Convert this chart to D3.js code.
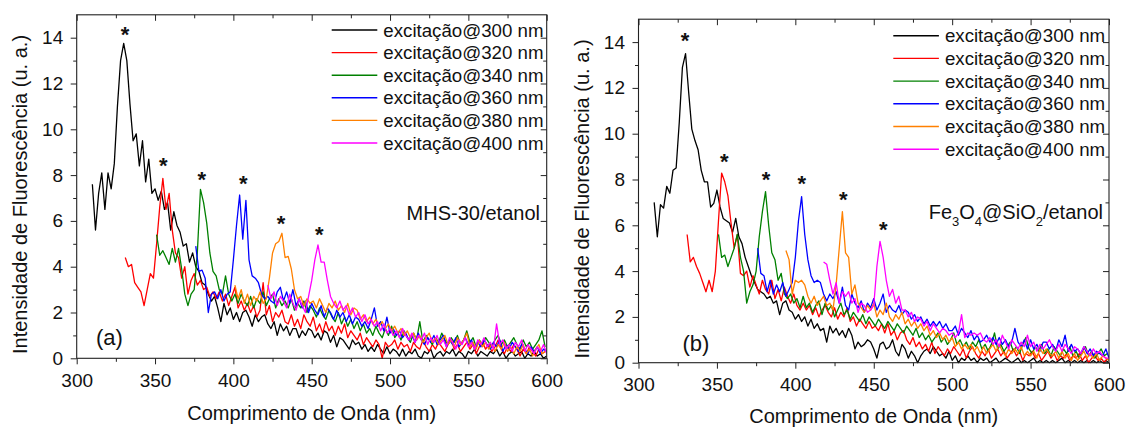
<!DOCTYPE html>
<html><head><meta charset="utf-8">
<script src="https://cdn.jsdelivr.net/npm/d3@7/dist/d3.min.js"></script>
<style>
html,body{margin:0;padding:0;background:#fff;}
svg{display:block;font-family:"Liberation Sans",Arial,sans-serif;}
</style></head>
<body>
<svg id="chart" width="1130" height="427"></svg>
<script>
// ---------- DATA ----------
const STEP = 2; // nm sampling step of every series
const xMajorTicks = [300, 350, 400, 450, 500, 550, 600];
const xMinorTicks = [325, 375, 425, 475, 525, 575];
const yMajorTicks = [0, 2, 4, 6, 8, 10, 12, 14];
const yMinorTicks = [1, 3, 5, 7, 9, 11, 13];
const legendLabels = ["excitação@300 nm", "excitação@320 nm", "excitação@340 nm",
                      "excitação@360 nm", "excitação@380 nm", "excitação@400 nm"];

// panel (a) : MHS-30/etanol
const startsA = [310, 331, 351, 376, 401, 422];
const a300 = [7.6,5.6,7.2,8.1,6.5,8.1,7.4,8.5,11.0,13.0,13.75,13.0,11.1,9.5,9.8,8.4,9.5,7.7,8.7,7.2,7.4,6.9,7.3,6.5,6.8,5.6,6.4,5.8,5.5,4.9,5.0,4.2,4.6,4.0,3.8,3.3,3.2,2.8,2.5,2.7,2.2,1.6,2.4,1.9,2.2,1.7,2.0,1.6,2.0,2.1,1.8,1.4,1.9,1.6,1.8,1.9,1.5,1.3,1.6,1.0,1.5,1.2,1.4,1.0,1.3,1.3,0.9,1.2,1.0,1.3,1.2,0.9,1.1,0.8,1.2,1.1,0.7,1.0,0.5,0.9,0.8,0.6,0.4,0.8,0.6,0.7,0.4,0.6,0.3,0.5,0.3,0.6,0.4,0.2,0.5,0.2,0.4,0.3,0.1,0.4,0.1,0.3,0.2,0.4,0.1,0.0,0.3,0.2,0.4,0.0,0.2,0.3,0.1,0.3,0.2,0.4,0.1,0.3,0.2,0.0,0.3,0.2,0.4,0.1,0.3,0.2,0.1,0.3,0.2,0.4,0.1,0.3,0.0,0.2,0.3,0.1,0.2,0.3,0.0,0.2,0.1,0.3,0.1,0.2,0.0,0.1];
const a320 = [4.4,4.0,4.1,3.3,3.1,2.9,2.3,3.0,3.7,3.5,5.0,6.6,7.86,6.5,7.2,5.6,4.6,4.4,3.5,4.0,2.8,3.4,3.7,3.2,3.4,3.0,3.1,2.7,2.9,2.6,2.9,2.5,2.8,2.3,2.7,3.1,2.2,2.5,2.1,2.4,2.0,2.3,1.8,2.1,3.3,1.9,2.3,1.6,2.0,1.8,2.1,1.6,1.5,1.9,1.4,1.7,1.3,1.9,1.6,1.4,1.8,1.2,1.5,1.1,1.6,1.2,1.4,1.0,1.4,1.1,1.5,0.9,1.2,1.0,0.8,1.1,0.6,0.9,0.7,0.5,0.8,0.6,0.0,0.7,0.5,0.6,0.8,0.4,0.7,0.5,0.6,0.3,0.7,0.5,0.4,0.8,0.5,0.3,0.6,0.4,0.7,0.5,0.3,0.6,0.8,0.4,0.6,0.3,0.5,0.7,0.4,0.6,0.2,0.5,0.7,0.4,0.6,0.3,0.5,0.8,0.4,0.2,0.5,0.3,0.6,0.4,0.1,0.4,0.2,0.5,0.3,0.1,0.4,0.2,0.3];
const a340 = [5.4,4.5,4.7,4.4,4.1,4.8,4.2,4.8,3.9,2.8,2.3,2.8,3.0,4.6,7.38,6.8,5.9,4.6,3.8,3.6,3.0,2.8,3.6,2.8,2.5,2.8,2.4,2.8,2.5,2.3,2.7,2.2,2.6,2.4,2.9,2.3,2.6,2.8,2.2,2.6,2.3,2.5,2.2,2.6,2.1,2.4,2.2,2.5,2.0,2.3,2.1,1.8,2.2,1.9,1.7,2.1,1.8,1.6,2.0,1.5,1.8,1.4,1.7,1.3,1.6,1.2,1.5,1.1,1.3,1.0,1.4,1.1,0.9,1.3,1.0,1.4,0.9,1.1,0.8,1.2,0.9,0.7,1.1,0.8,1.6,0.7,1.0,0.8,0.6,0.9,0.7,1.1,0.8,0.6,0.9,0.7,1.0,0.6,0.8,1.2,0.7,0.9,0.5,0.8,0.6,0.9,0.7,0.5,0.8,1.0,0.6,0.8,0.5,0.7,0.9,0.6,0.4,0.8,0.5,0.7,0.4,0.6,0.8,1.2,0.5];
const a360 = [4.9,3.8,3.85,3.5,2.0,2.8,2.9,2.6,3.0,2.5,2.8,2.9,4.3,5.8,7.13,5.2,6.9,4.3,3.6,3.5,3.3,2.8,2.6,2.7,2.5,2.4,2.9,3.1,2.5,2.9,2.4,3.0,2.3,2.6,2.2,2.5,2.0,2.4,2.1,1.9,2.3,1.8,2.2,2.0,1.7,2.1,1.8,2.0,1.6,1.9,1.5,1.8,1.7,1.4,1.6,1.3,1.7,2.2,1.4,1.6,1.2,1.8,1.1,1.3,1.0,1.2,0.9,1.1,0.8,1.0,0.7,1.1,0.8,0.6,0.9,0.7,1.0,0.6,0.8,1.0,0.5,0.8,0.6,0.9,0.5,0.7,0.9,0.6,0.8,0.4,0.7,0.5,0.8,0.6,0.4,0.7,0.5,0.8,0.3,0.6,0.4,0.7,0.5,0.3,0.6,0.4,0.2,0.5,0.3,0.5,0.2,0.4,0.3];
const a380 = [3.2,2.6,3.0,2.4,2.8,2.3,2.7,2.5,2.9,2.4,2.6,3.5,4.6,5.0,5.1,5.46,4.4,4.45,3.9,3.0,2.6,2.7,2.3,2.6,2.4,2.5,2.2,2.6,2.3,2.0,2.4,2.2,2.5,2.1,2.3,2.0,2.4,1.9,2.2,2.1,1.7,1.9,1.6,1.8,1.5,1.7,1.4,1.6,1.3,1.5,1.2,1.4,1.1,1.3,1.0,1.2,0.9,1.1,0.8,1.0,0.7,0.9,1.1,0.7,0.9,0.6,0.8,1.0,0.6,0.8,0.5,0.9,0.6,0.8,1.1,0.5,0.7,0.4,0.8,0.5,0.7,0.4,0.6,0.3,0.6,0.4,0.7,0.3,0.5,0.2,0.5,0.3,0.6,0.2,0.4,0.1,0.4,0.6,0.2,0.3];
const a400 = [3.2,2.6,2.9,2.3,2.7,2.5,2.2,2.8,2.4,2.1,2.6,2.3,2.0,2.7,3.4,4.3,4.95,4.2,4.2,3.4,2.7,2.4,2.2,2.5,2.1,2.3,1.9,2.2,1.8,2.0,1.6,1.9,1.5,1.7,1.4,1.6,1.2,1.5,1.1,1.3,1.0,1.2,0.9,1.3,1.0,0.8,1.1,0.7,1.0,0.8,1.1,0.6,0.9,0.7,1.0,0.6,0.8,0.5,0.9,0.7,0.4,0.8,0.6,0.9,0.5,0.7,0.4,0.8,0.6,0.9,0.5,0.7,0.4,1.5,0.6,0.8,0.4,0.6,0.3,0.7,0.5,0.8,0.3,0.6,0.4,0.2,0.5,0.3,0.6,0.2];
const starsAx = [330.8, 355.3, 379.8, 406.3, 430.4, 454.9];
const starsAy = [14.4, 8.66, 8.05, 7.86, 6.11, 5.63];

// panel (b) : Fe3O4@SiO2/etanol
const startsB = [310, 331, 351, 376, 394, 418];
const b300 = [7.0,5.5,6.9,6.75,7.7,7.4,8.4,8.5,10.5,12.9,13.5,11.8,10.2,9.7,9.3,8.4,7.9,7.9,6.8,6.96,7.54,6.8,6.3,6.2,6.1,5.7,6.3,5.5,5.2,4.6,4.2,3.8,3.5,3.2,3.1,3.0,2.8,2.9,2.6,2.7,2.1,2.6,2.7,2.3,2.2,1.9,2.1,1.8,2.0,1.6,1.9,1.5,1.7,1.4,1.5,0.9,1.6,1.3,1.5,1.2,1.4,1.1,1.5,1.2,0.6,0.9,0.7,0.8,1.0,0.9,0.6,0.2,0.8,0.9,0.6,0.7,1.0,0.5,0.3,0.8,0.6,0.2,0.5,0.3,0.0,0.3,0.5,0.6,0.4,0.7,0.5,0.3,0.4,0.2,0.5,0.1,0.3,0.0,0.2,0.1,0.3,0.1,0.2,0.0,0.2,0.1,0.2,0.0,0.1,0.2,0.0,0.1,0.2,0.1,0.0,0.1,0.2,0.0,0.1,0.0,0.1,0.2,0.0,0.1,0.0,0.1,0.0,0.1,0.0,0.1,0.2,0.0,0.1,0.0,0.1,0.0,0.1,0.0,0.1,0.0,0.1,0.0,0.1,0.0,0.1,0.0];
const b320 = [5.6,4.4,4.6,4.2,3.9,3.5,3.1,3.6,3.1,4.0,6.2,8.28,7.9,7.3,6.1,5.0,5.6,3.9,3.8,4.0,3.3,3.8,3.4,3.0,3.6,3.2,3.0,3.6,2.8,3.2,2.7,3.3,2.9,2.6,3.0,2.5,2.3,2.6,2.3,2.5,2.1,2.4,2.0,2.3,2.5,2.2,2.0,2.4,1.9,2.2,2.0,2.4,1.8,2.0,1.6,1.9,1.7,1.5,1.8,1.5,1.6,1.4,1.7,1.3,1.7,1.2,1.4,1.0,1.3,1.4,1.0,0.8,1.1,0.7,0.9,0.6,0.8,0.5,0.9,0.4,0.7,0.5,0.3,0.6,0.4,0.7,0.5,0.3,0.6,0.2,0.5,0.7,0.4,0.2,0.5,0.3,0.6,0.2,0.4,0.6,0.3,0.5,0.2,0.4,0.6,0.3,0.5,0.1,0.4,0.3,0.5,0.2,0.4,0.1,0.3,0.5,0.2,0.4,0.1,0.3,0.2,0.4,0.1,0.3,0.2,0.4,0.1,0.3,0.0,0.2,0.3,0.1,0.2,0.0,0.2];
const b340 = [5.6,4.6,4.7,4.2,4.6,5.0,5.6,4.6,4.0,2.6,3.1,3.4,4.0,5.5,6.6,7.47,6.0,4.8,4.5,3.6,3.9,3.0,2.8,3.0,2.6,2.8,2.4,2.9,2.4,2.6,2.2,2.5,2.7,2.1,2.6,2.3,2.5,2.0,2.3,2.6,2.1,2.3,1.9,2.2,2.0,1.8,2.1,1.7,2.0,1.8,1.6,1.9,1.7,1.5,1.8,1.6,1.4,1.7,1.5,1.3,1.6,1.4,1.2,1.5,1.1,1.3,1.0,1.2,0.9,1.1,1.3,0.9,1.1,0.8,1.0,1.3,0.8,1.0,0.7,0.9,0.6,0.9,0.7,1.0,0.6,0.8,0.5,0.8,1.3,0.6,0.8,0.5,0.7,0.9,0.5,0.7,0.4,0.8,1.1,0.6,0.4,0.7,0.5,0.8,0.4,0.6,0.3,0.7,0.5,0.3,0.6,0.4,0.7,0.3,0.5,0.2,0.5,0.7,0.3,0.5,0.2,0.4,0.6,0.3,0.4];
const b360 = [5.0,3.9,3.8,3.1,3.6,3.0,3.4,3.1,3.5,2.9,3.2,3.5,4.6,6.2,7.25,5.6,4.5,3.8,3.5,3.6,3.5,3.0,2.7,3.0,2.8,3.1,2.6,3.3,2.5,2.3,3.0,2.6,2.4,2.7,2.2,2.6,2.4,2.8,2.3,2.6,3.0,2.2,2.5,2.3,2.2,2.5,2.1,2.3,2.2,1.9,2.1,1.8,2.0,1.7,1.9,1.6,1.8,1.6,1.8,1.5,1.7,1.4,1.4,1.6,1.2,1.5,1.3,1.1,1.4,1.0,1.2,0.9,1.0,1.2,0.9,1.1,0.8,1.1,0.8,1.0,0.7,0.9,1.5,0.9,0.7,1.0,0.6,1.0,0.6,0.8,0.5,0.9,0.9,0.6,0.8,0.5,1.0,0.7,1.2,0.5,0.8,0.5,0.6,0.4,0.7,0.4,0.6,0.3,0.5,0.4,0.3,0.6,0.2];
const b380 = [4.9,4.5,3.0,3.6,3.5,3.6,3.4,2.9,2.6,2.9,2.5,2.7,2.9,2.5,2.6,2.3,3.4,5.0,6.6,4.8,4.6,3.0,3.4,2.6,2.4,2.2,2.5,2.3,2.6,2.0,2.3,2.1,2.6,2.0,1.8,2.1,1.9,2.2,1.7,1.9,1.6,1.8,1.5,1.7,1.4,1.6,1.2,1.4,1.1,1.3,1.0,1.2,0.9,1.1,0.7,0.9,0.6,0.8,0.6,0.8,0.5,0.7,0.4,0.7,0.4,0.6,0.8,0.5,0.8,0.5,0.3,0.6,0.4,0.6,0.4,0.7,0.3,0.5,0.3,0.5,0.2,0.6,0.4,0.6,0.4,0.3,0.5,0.2,0.5,0.2,0.4,0.1,0.4,0.1,0.3,0.5,0.2,0.4,0.2,0.4,0.1,0.3,0.2,0.1];
const b400 = [4.4,4.3,3.6,3.0,3.5,2.6,3.1,2.9,3.1,2.6,2.8,2.2,2.6,2.5,2.2,2.3,2.5,4.2,5.3,4.6,3.6,2.9,3.2,2.6,2.9,2.3,2.3,2.0,2.2,1.8,2.0,1.9,1.6,1.8,1.4,1.7,1.5,1.3,1.5,1.4,1.2,1.3,1.1,1.3,2.1,1.1,1.3,1.2,1.3,1.2,1.3,1.0,0.9,1.1,0.8,1.0,0.7,1.2,0.9,0.6,1.0,0.8,0.6,0.9,0.7,1.2,0.7,0.9,0.5,0.8,0.6,0.8,1.0,0.7,0.5,0.8,0.5,0.8,0.6,0.4,0.7,0.6,0.4,0.7,0.5,0.3,0.6,0.4,0.5,0.3,0.2,0.2];
const starsBx = [329.6, 354.7, 381.3, 404.1, 430.6, 456.1];
const starsBy = [14.31, 9.03, 8.24, 8.05, 7.37, 6.06];

// ---------- STYLE / LAYOUT ----------
const colors = ["#000000", "#ff0000", "#008000", "#0000ff", "#ff8000", "#ff00ff"];
const FONT = '"Liberation Sans", Arial, sans-serif';

const panels = [
  { box: {l: 76.7, r: 546.7, t: 14.8, b: 358.3},
    starts: startsA, series: [a300, a320, a340, a360, a380, a400],
    starsX: starsAx, starsY: starsAy,
    legend: {x: 331.7, y: 30, dy: 22.6},
    tag: {text: "(a)", x: 96, y: 345},
    ylabCenter: 194.5, xlabY: 419.5, kind: "a" },
  { box: {l: 638.5, r: 1109, t: 19.2, b: 362.7},
    starts: startsB, series: [b300, b320, b340, b360, b380, b400],
    starsX: starsBx, starsY: starsBy,
    legend: {x: 893.3, y: 35.7, dy: 22.7},
    tag: {text: "(b)", x: 682.5, y: 351},
    ylabCenter: 199, xlabY: 423, kind: "b" }
];

const svg = d3.select("#chart");

panels.forEach((p, pi) => {
  const B = p.box;
  const x = d3.scaleLinear().domain([300, 600]).range([B.l, B.r]);
  const y = d3.scaleLinear().domain([0, 15]).range([B.b, B.t]);
  const g = svg.append("g");

  // clip
  const clipId = "clip" + pi;
  svg.append("clipPath").attr("id", clipId).append("rect")
    .attr("x", B.l).attr("y", B.t).attr("width", B.r - B.l).attr("height", B.b - B.t + 1);

  // series
  const line = d3.line().x(d => x(d[0])).y(d => y(d[1]));
  const lg = g.append("g").attr("clip-path", `url(#${clipId})`);
  p.series.forEach((vals, si) => {
    const pts = vals.map((v, i) => [p.starts[si] + i * STEP, v]).filter(d => d[0] <= 600);
    lg.append("path").datum(pts).attr("d", line)
      .attr("fill", "none").attr("stroke", colors[si]).attr("stroke-width", 1.3)
      .attr("stroke-linejoin", "round");
  });

  // axes
  const styleAxis = (sel) => {
    sel.select(".domain").remove();
    sel.selectAll("line").attr("stroke", "#222").attr("stroke-width", 1);
    sel.selectAll("text").attr("font-family", FONT).attr("font-size", 19).attr("fill", "#111");
  };
  g.append("g").attr("transform", `translate(0,${B.b})`)
    .call(d3.axisBottom(x).tickValues(xMajorTicks).tickSize(6).tickPadding(9).tickFormat(d3.format("d")))
    .call(styleAxis);
  g.append("g").attr("transform", `translate(0,${B.b})`)
    .call(d3.axisBottom(x).tickValues(xMinorTicks).tickSize(3.5).tickFormat(""))
    .call(styleAxis);
  g.append("g").attr("transform", `translate(0,${B.t})`)
    .call(d3.axisTop(x).tickValues(xMajorTicks).tickSize(-6).tickFormat(""))
    .call(styleAxis);
  g.append("g").attr("transform", `translate(0,${B.t})`)
    .call(d3.axisTop(x).tickValues(xMinorTicks).tickSize(-3.5).tickFormat(""))
    .call(styleAxis);
  g.append("g").attr("transform", `translate(${B.l},0)`)
    .call(d3.axisLeft(y).tickValues(yMajorTicks).tickSize(6).tickPadding(7.5).tickFormat(d3.format("d")))
    .call(styleAxis);
  g.append("g").attr("transform", `translate(${B.l},0)`)
    .call(d3.axisLeft(y).tickValues(yMinorTicks).tickSize(3.5).tickFormat(""))
    .call(styleAxis);
  g.append("g").attr("transform", `translate(${B.r},0)`)
    .call(d3.axisRight(y).tickValues(yMajorTicks).tickSize(-6).tickFormat(""))
    .call(styleAxis);
  g.append("g").attr("transform", `translate(${B.r},0)`)
    .call(d3.axisRight(y).tickValues(yMinorTicks).tickSize(-3.5).tickFormat(""))
    .call(styleAxis);

  // frame
  g.append("rect").attr("x", B.l).attr("y", B.t).attr("width", B.r - B.l).attr("height", B.b - B.t)
    .attr("fill", "none").attr("stroke", "#222").attr("stroke-width", 1.1);

  // axis titles
  g.append("text").attr("x", (B.l + B.r) / 2).attr("y", p.xlabY)
    .attr("text-anchor", "middle").attr("font-family", FONT).attr("font-size", 20).attr("fill", "#111")
    .text("Comprimento de Onda (nm)");
  g.append("text")
    .attr("transform", `translate(${B.l - 50},${p.ylabCenter}) rotate(-90)`)
    .attr("text-anchor", "middle").attr("font-family", FONT).attr("font-size", 20).attr("fill", "#111")
    .text("Intensidade de Fluorescência (u. a.)");

  // legend
  legendLabels.forEach((lab, i) => {
    const cy = p.legend.y + i * p.legend.dy;
    g.append("line").attr("x1", p.legend.x).attr("x2", p.legend.x + 45.6)
      .attr("y1", cy).attr("y2", cy).attr("stroke", colors[i]).attr("stroke-width", 1.4);
    g.append("text").attr("x", p.legend.x + 51.6).attr("y", cy + 6.6)
      .attr("font-family", FONT).attr("font-size", 18.7).attr("fill", "#111").text(lab);
  });

  // asterisks
  p.starsX.forEach((sx, i) => {
    g.append("text").attr("x", x(sx)).attr("y", y(p.starsY[i]) + 13)
      .attr("text-anchor", "middle").attr("font-family", FONT).attr("font-size", 22)
      .attr("font-weight", "bold").attr("fill", "#111").text("*");
  });

  // panel tag
  g.append("text").attr("x", p.tag.x).attr("y", p.tag.y)
    .attr("font-family", FONT).attr("font-size", 22).attr("fill", "#111").text(p.tag.text);

  // sample label
  if (p.kind === "a") {
    g.append("text").attr("x", 540).attr("y", 220).attr("text-anchor", "end")
      .attr("font-family", FONT).attr("font-size", 20).attr("fill", "#111").text("MHS-30/etanol");
  } else {
    const t = g.append("text").attr("x", 1103).attr("y", 218.5).attr("text-anchor", "end")
      .attr("font-family", FONT).attr("font-size", 20).attr("fill", "#111");
    const parts = [["Fe", 0], ["3", 1], ["O", 0], ["4", 1], ["@SiO", 0], ["2", 1], ["/etanol", 0]];
    let prevSub = 0;
    parts.forEach(([s, sub]) => {
      const ts = t.append("tspan").text(s);
      if (sub) ts.attr("font-size", 13);
      const shift = (sub ? 7 : 0) - (prevSub ? 7 : 0);
      if (shift !== 0) ts.attr("dy", shift);
      prevSub = sub;
    });
  }
});
</script>
</body></html>
